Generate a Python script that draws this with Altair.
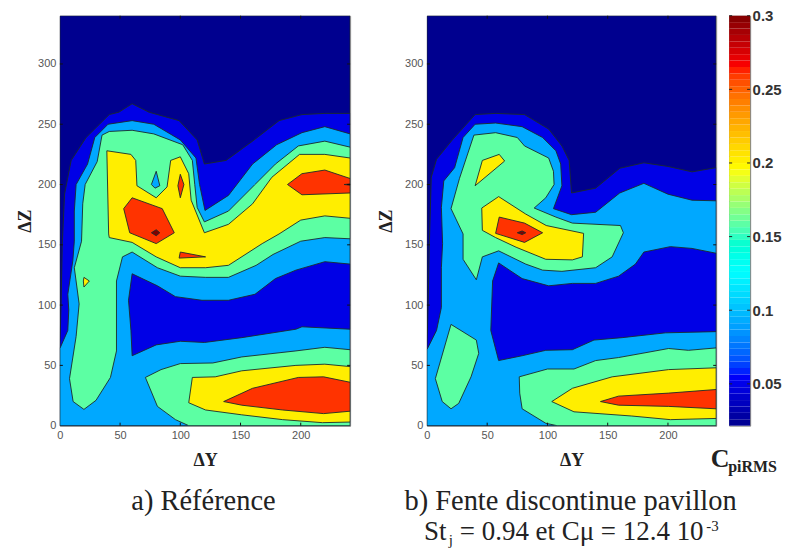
import altair as alt
import numpy as np
import pandas as pd

NAVY, BLUE, SKY, MINT, YELLOW, RED, DARK = "#00008f", "#0000e6", "#00a8ff", "#5cffa3", "#ffee00", "#ff3300", "#800000"
TICKS_X = [0, 50, 100, 150, 200]
TICKS_Y = [0, 50, 100, 150, 200, 250, 300]
TICKS_C = [0.05, 0.1, 0.15, 0.2, 0.25, 0.3]

a_blue = [(0,0),(0,65),(1,100),(2,150),(3.9,192),(9.4,220),(21.8,239),(41,258),(49,260),(60,267),(74,260),(99,253),(114,237),(120,217),(138,220),(160,236),(182,253),(201,258),(220,259),(241,259),(241,0)]
a_sky = [(0,0),(0,64),(6.6,79),(7.4,96),(6.6,109),(10.8,137),(12,153),(12,178),(13.5,200),(23,217),(29,239),(40,250),(60,253),(78,250),(100,237),(113,222),(116,200),(120.5,178.5),(140,191),(160,217),(180,233),(201,243),(220,248),(241,242),(241,0)]
a_hole = [(60,126),(57,104),(59,79),(60,58),(80,67),(100,70),(120,69),(151,73),(196,80),(201,82),(241,80),(241,134),(220,136),(196,129),(179,122),(162,109),(140,104),(118,104),(96,107),(81,116)]
a_mint = [(20,13.5),(11,20),(8,39),(13.5,74),(16,101),(12,131),(18,153),(19,184),(21,200),(31,219),(35,241),(41,244),(60,245),(78,242),(102,233),(110,220),(112,200),(114,181),(120,169),(140,178),(162,200),(179,217),(198,232),(220,236),(241,231),(241,155),(220,156),(200,153),(177,142),(163,133),(140,123),(121,123),(100,124),(81,131),(60,144),(52,140),(47,120),(47,62),(42,40),(30,21)]
a_yellow = [(39,228),(59,225),(63,220),(64,199),(80,189),(89,198),(92,220),(100,223),(107,209),(109,187),(120,160),(140,167),(160,184),(176,206),(199,225),(220,225),(241,222),(241,172),(220,174),(200,170.5),(182,159),(168,151),(140,133),(121,131),(100,131),(80,140),(60,152),(41,156),(40.5,159)]
a_red1 = [(60,189),(85,180),(95,160),(80,151),(58,160),(53,180)]
a_dark1 = [(76,160),(80,162.5),(83,160),(80,157.5)]
a_red2 = [(100,208.5),(103,200),(100,189),(98,199)]
a_spot = [(80,211),(83,199),(79,197),(76,200)]
a_red3 = [(201,209),(220,212),(241,205),(241,193),(201,191.5),(189,200)]
a_dark3 = [(236,200),(241,200.5),(241,199.5)]
a_red4 = [(100,144),(121,140),(99,139)]
a_dot = [(20,123),(24.5,120),(20,115),(19.5,120)]
a_mint2 = [(71,40),(84,46.5),(100,51.5),(127,52),(151,57),(196,62),(220,65),(241,63),(241,0),(107,0),(96,5),(81,16)]
a_yellow2 = [(110,40),(129,40.5),(151,45.5),(196,50),(220,51),(241,49),(241,3),(218,2.5),(185,5),(151,9),(121,13),(107,19)]
a_red5 = [(136,20),(160,31),(198,40),(219,40.5),(241,36),(241,12),(219,10),(185,13),(151,17)]

b_blue = [(0,0),(0,63),(1,100),(2,150),(3.6,206),(8,221),(21.5,237.5),(40,258),(57,259),(81,258),(101,246),(112,232),(118,220),(120,193),(140,197),(160,213.5),(180,218),(200,215),(220,210.5),(240,214),(240,0)]
b_sky = [(0,0),(0,63),(8,79),(12,98),(12,131),(13,151),(12,181),(14,203),(23,214),(30,239),(40,250),(57,251),(79,248),(96,239),(107,228),(111,217),(112,199),(105,180),(120,175),(140,177),(160,193),(180,201),(200,192),(220,187),(240,186.5),(240,0)]
b_hole = [(59.5,135),(54.5,120),(53,79),(59.5,54),(79,58),(98.6,62.5),(120.7,63),(138.6,71),(162,73),(198,77),(240,78),(240,143),(220,147),(202,148.5),(180,144),(173,134),(159,124),(140,118),(120.7,118),(101,116),(79,122)]
b_mint = [(39,241),(57,243),(75,239),(81,232),(101,222),(105,211),(105.5,200),(98.6,189),(89,180.5),(107,173),(120.7,168),(160.6,166),(163,160),(153.7,140),(140,131),(112,128),(96,129),(82,134),(59.5,145),(46,140),(41,121),(30,138),(30,159),(20,180),(27,205)]
b_yellow = [(59.5,190),(82,175.5),(99,166),(130,159.5),(129,140),(120.7,137.5),(98.6,138),(74,148),(57,156),(46,162),(45.5,180.5)]
b_yellow2 = [(46,220),(60,225),(64.5,219.5),(40,199)]
b_red = [(60,173),(81,168),(96,160),(81,152),(57,159.5)]
b_dark = [(75,160),(79,161.5),(82,160),(79,158.5)]
b_mint2 = [(20,84),(41,71),(43,60),(36.6,40.5),(26.4,18.5),(20,14),(12.7,20),(7,39)]
b_mint3 = [(76.6,40.5),(100,47),(122,47),(140,54),(159,56.5),(178.5,60),(200.5,64),(217,62.5),(240,64.5),(240,0),(108,0),(98.6,2),(79,14),(77,27)]
b_yellow3 = [(103.6,20),(120.7,31),(153.7,40.5),(200.5,46.5),(240,48),(240,6),(202,5),(170,8),(122,11.5)]
b_red2 = [(144,20),(159,24.5),(200.5,27),(240,30),(240,14),(200.5,16),(159,17)]

POLYS_A = [(a_blue,BLUE),(a_sky,SKY),(a_hole,BLUE),(a_mint,MINT),(a_yellow,YELLOW),(a_red1,RED),(a_dark1,DARK),(a_red2,RED),(a_spot,SKY),(a_red3,RED),(a_dark3,DARK),(a_red4,RED),(a_dot,YELLOW),(a_mint2,MINT),(a_yellow2,YELLOW),(a_red5,RED)]
POLYS_B = [(b_blue,BLUE),(b_sky,SKY),(b_hole,BLUE),(b_mint,MINT),(b_yellow,YELLOW),(b_yellow2,YELLOW),(b_red,RED),(b_dark,DARK),(b_mint2,MINT),(b_mint3,MINT),(b_yellow3,YELLOW),(b_red2,RED)]

SERIF = "Liberation Serif"
SANS = "Liberation Sans"
W_A, W_B, H = 291, 290, 411


def text(t, x, y, size, bold=False, align="center", font=SERIF, color="#222"):
    return alt.Chart(pd.DataFrame({"t": [t]})).mark_text(
        font=font, fontSize=size, fontWeight="bold" if bold else "normal",
        align=align, baseline="alphabetic", color=color,
    ).encode(x=alt.value(x), y=alt.value(y), text="t:N")


def panel(polys, xmax, width, extras, zpad):
    xs = alt.Scale(domain=[0, xmax], nice=False, zero=False)
    ys = alt.Scale(domain=[0, 340], nice=False, zero=False)
    xe = alt.X("x:Q", scale=xs, axis=alt.Axis(values=TICKS_X, title="ΔY", titleFont=SERIF, titleFontSize=18, titleFontWeight="bold", titleColor="#222", titlePadding=11, labelFont=SANS, labelFontSize=11, labelColor="#555", labelPadding=4, tickSize=0, grid=False, domainColor="#888", labelFlush=False))
    ye = alt.Y("y:Q", scale=ys, axis=alt.Axis(values=TICKS_Y, title="ΔZ", titleFont=SERIF, titleFontSize=18, titleFontWeight="bold", titleColor="#222", titlePadding=zpad, labelFont=SANS, labelFontSize=11, labelColor="#555", labelPadding=4, tickSize=0, grid=False, domainColor="#888"))
    bg = [(0, 0), (0, 340), (xmax, 340), (xmax, 0)]
    layers = []
    for pts, col in [(bg, NAVY)] + polys:
        p = list(pts) + [pts[0]]
        df = pd.DataFrame({"x": [q[0] for q in p], "y": [q[1] for q in p], "i": range(len(p))})
        layers.append(alt.Chart(df).mark_line(fill=col, stroke="#1c2a2a", strokeWidth=0.9, clip=True, strokeJoin="round").encode(x=xe, y=ye, order="i:Q"))
    tx = pd.DataFrame({"x": TICKS_X[1:]})
    ty = pd.DataFrame({"y": TICKS_Y[1:]})
    tick = dict(color="#111", strokeWidth=1)
    layers.append(alt.Chart(tx).mark_rule(**tick).encode(x=xe, y=alt.value(H), y2=alt.value(H - 3)))
    layers.append(alt.Chart(tx).mark_rule(**tick).encode(x=xe, y=alt.value(0), y2=alt.value(3)))
    layers.append(alt.Chart(ty).mark_rule(**tick).encode(y=ye, x=alt.value(0), x2=alt.value(3)))
    layers.append(alt.Chart(ty).mark_rule(**tick).encode(y=ye, x=alt.value(width), x2=alt.value(width - 3)))
    layers += extras
    return alt.layer(*layers).properties(width=width, height=H)


CAP_Y1 = 496
CAP_Y2 = 526
left = panel(POLYS_A, 241, W_A, [text("a) Référence", 144, CAP_Y1, 28.5)], 3)
right = panel(POLYS_B, 240, W_B, [
    text("b) Fente discontinue pavillon", 144, CAP_Y1, 28.5),
    text("St", -3, CAP_Y2, 27, align="left"),
    text("j", 22, CAP_Y2 + 5, 15, align="left"),
    text("= 0.94 et Cμ = 12.4 10", 33, CAP_Y2, 27, align="left"),
    text("-3", 280, CAP_Y2 - 9, 15, align="left"),
], 9)

CMIN, CMAX = 0.0216, 0.3
edges = np.linspace(CMIN, CMAX, 65)
cb = pd.DataFrame({"lo": edges[:-1], "hi": edges[1:], "v": (edges[:-1] + edges[1:]) / 2})
span = CMAX - CMIN
jet_dom = [CMIN, CMIN + span / 8, CMIN + 3 * span / 8, CMIN + 5 * span / 8, CMIN + 7 * span / 8, CMAX]
jet_rng = ["#00008f", "#0000ff", "#00ffff", "#ffff00", "#ff0000", "#800000"]
yc = alt.Y("lo:Q", scale=alt.Scale(domain=[CMIN, CMAX], nice=False, zero=False),
           axis=alt.Axis(orient="right", values=TICKS_C, format="~g", title=None, labelFont=SANS, labelFontSize=15, labelColor="#333", labelFontWeight="bold", labelPadding=2, tickSize=0, domainColor="#888", grid=False))
bar = alt.Chart(cb).mark_rect(stroke=None).encode(
    x=alt.value(0), x2=alt.value(21), y=yc, y2="hi:Q",
    color=alt.Color("v:Q", scale=alt.Scale(domain=jet_dom, range=jet_rng), legend=None),
)
tc = pd.DataFrame({"lo": TICKS_C})
cticks = [
    alt.Chart(tc).mark_rule(color="#222").encode(y=yc, x=alt.value(0), x2=alt.value(3)),
    alt.Chart(tc).mark_rule(color="#222").encode(y=yc, x=alt.value(21), x2=alt.value(18)),
]
colorbar = alt.layer(bar, *cticks,
                     text("C", -9, 452, 26, bold=True),
                     text("piRMS", -1, 457, 16, bold=True, align="left"),
                     ).properties(width=21, height=H)

spacer = alt.Chart(pd.DataFrame({"t": [""]})).mark_text().encode(
    x=alt.value(0), y=alt.value(0), text="t:N"
).properties(width=51, height=H, view=alt.ViewConfig(stroke=None))

chart = alt.hconcat(left, spacer, right, colorbar, spacing=13, bounds="flush").resolve_scale(x="independent", y="independent", color="independent").properties(
    padding={"left": 8, "top": -1, "right": 0, "bottom": 40}
).configure_view(stroke="#888", strokeWidth=1)

chart.save("out.html", embed_options={"renderer": "svg", "actions": False})
